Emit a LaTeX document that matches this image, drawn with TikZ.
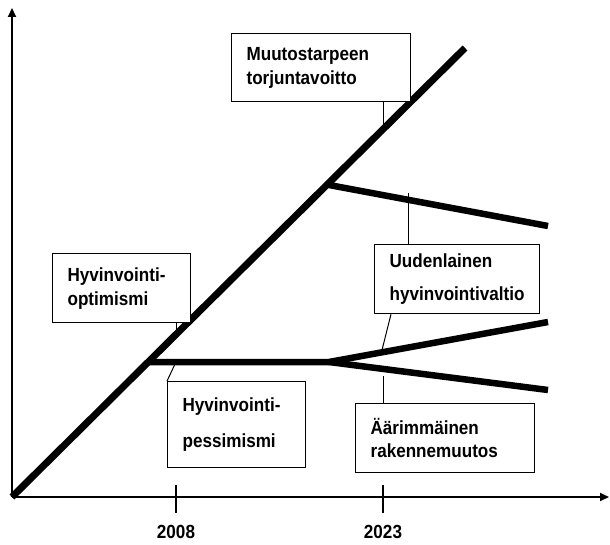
\documentclass[tikz,border=0pt]{standalone}
\usepackage{fontspec}
\setmainfont{Liberation Sans}[FakeStretch=0.9]
\usetikzlibrary{arrows.meta}

\newcommand{\boxfont}{\fontsize{19}{22.8}\selectfont\bfseries}

\begin{document}
\begin{tikzpicture}[x=1pt,y=-1pt,
    axis/.style={line width=2pt,-{Triangle[length=9pt,width=8pt]}},
    trend/.style={line width=6.5pt},
    pointer/.style={line width=1pt},
    box/.style={draw,line width=1.2pt,fill=white,anchor=north west,
                inner xsep=15pt,inner ysep=0pt,align=left,font=\boxfont},
    year/.style={font=\boxfont}]
  \useasboundingbox (0,0) rectangle (610,545);
  % Axes and years
  \coordinate   (O)         at (12,497);
  \draw[axis] (O) -- (609,497);
  \draw[axis] (O) -- (12,8);
  \node[year]   (y2008)     at (176,532) {2008};
  \node[year]   (y2023)     at (383,532) {2023};
  \draw[line width=1.2pt] (176,485) -- (176,513);
  \draw[line width=1.2pt] (383,485) -- (383,513);
  % Trend lines
  \coordinate   (T)         at (465,48);
  \coordinate   (S1)        at (149,362);
  \coordinate   (S2)        at (329,185);
  \coordinate   (F)         at (329,362);
  \coordinate   (E1)        at (548,226);
  \coordinate   (E2)        at (548,322);
  \coordinate   (E3)        at (548,390);
  \draw[trend] (S2) -- (E1);
  \draw[trend] (S1) -- (F) -- (E2);
  \draw[trend] (F) -- (E3);
  \draw[line width=7pt] (O) -- (T);
  % Boxes
  \node[box,minimum height=68pt,text width=149pt] (muutos)     at (231,33)
        {Muutostarpeen\\[1pt]torjuntavoitto};
  \node[box,minimum height=69pt,text width=108pt] (optimismi)  at (52,253)
        {Hyvinvointi-\\[1.2pt]optimismi};
  \node[box,minimum height=69pt,text width=135pt] (uusi)       at (374,244)
        {Uudenlainen\\[10.2pt]hyvinvointivaltio};
  \node[box,minimum height=86pt,text width=108pt] (pessimismi) at (167,381)
        {Hyvinvointi-\\[13.2pt]pessimismi};
  \node[box,minimum height=69pt,text width=149pt] (muutos2)    at (355,403)
        {Äärimmäinen\\[0pt]rakennemuutos};
  % Pointers from boxes to lines
  \coordinate   (p1)        at (383,126);
  \coordinate   (p2)        at (176,334);
  \coordinate   (p3)        at (176,362);
  \coordinate   (p4)        at (408,193);
  \coordinate   (p5)        at (382,350);
  \coordinate   (p6)        at (383,376);
  \draw[pointer] (muutos.south -| p1) -- (p1);
  \draw[pointer] (optimismi.south -| p2) -- (p2);
  \draw[pointer] (pessimismi.north west) -- (p3);
  \draw[pointer] (uusi.north -| p4) -- (p4);
  \draw[pointer] ([xshift=17pt]uusi.south west) -- (p5);
  \draw[pointer] (muutos2.north -| p6) -- (p6);
\end{tikzpicture}
\end{document}
